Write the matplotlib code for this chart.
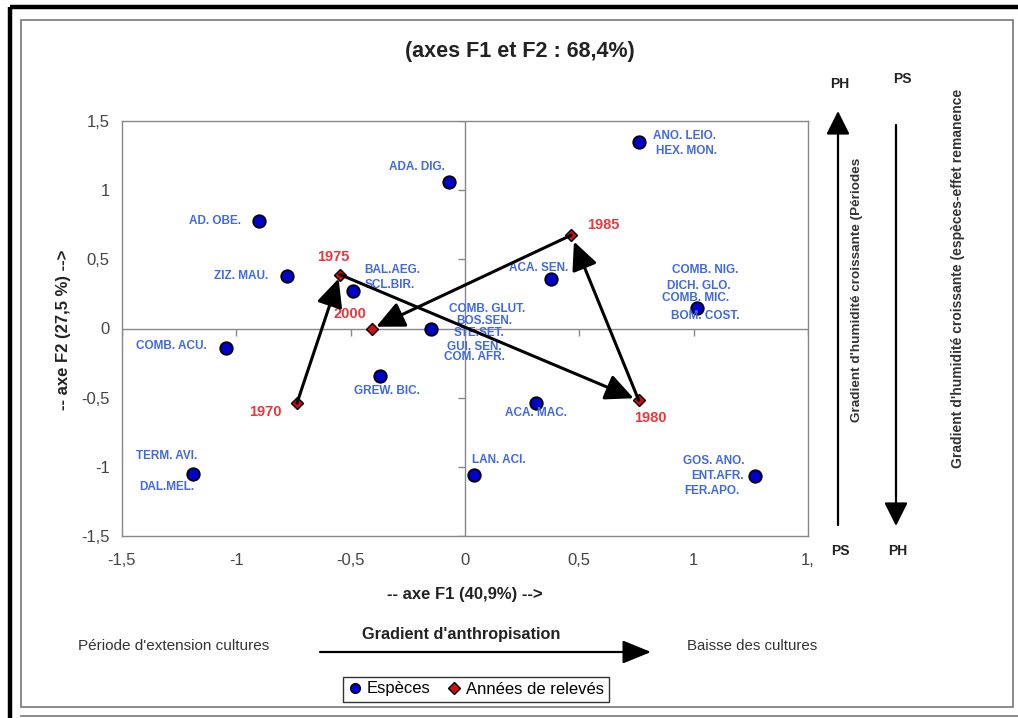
import matplotlib
matplotlib.use("Agg")
import matplotlib.pyplot as plt
from matplotlib.lines import Line2D
from matplotlib.patches import Rectangle
import numpy as np

plt.rcParams['font.family'] = ['Liberation Sans', 'DejaVu Sans']

# espèces : coordonnées F1 / F2
esp_x = [-0.07, -0.90, -0.78, -0.49, -0.15, -1.045, -0.37, -1.19, 0.04, 0.31, 0.375, 0.76, 1.015, 1.27]
esp_y = [1.06, 0.78, 0.38, 0.27, 0.0, -0.14, -0.34, -1.05, -1.06, -0.54, 0.355, 1.35, 0.145, -1.065]
esp_noms = [
    ["ADA. DIG."],
    ["AD. OBE."],
    ["ZIZ. MAU."],
    ["BAL.AEG.", "SCL.BIR."],
    ["COMB. GLUT.", "BOS.SEN.", "STE.SET.", "GUI. SEN.", "COM. AFR."],
    ["COMB. ACU."],
    ["GREW. BIC."],
    ["TERM. AVI.", "DAL.MEL."],
    ["LAN. ACI."],
    ["ACA. MAC."],
    ["ACA. SEN."],
    ["ANO. LEIO.", "HEX. MON."],
    ["COMB. NIG.", "DICH. GLO.", "COMB. MIC.", "BOM. COST."],
    ["GOS. ANO.", "ENT.AFR.", "FER.APO."],
]
# décalages des étiquettes (pixels)
esp_offs = [
    [(-32, 15)],
    [(-44, 0)],
    [(-46, 0)],
    [(39, 21), (37, 6)],
    [(56, 19), (54, 7), (48, -5), (44, -18), (44, -29)],
    [(-55, 2)],
    [(7, -15)],
    [(-26, 18), (-26, -13)],
    [(25, 15)],
    [(0, -10)],
    [(-12, 11)],
    [(46, 6), (48, -9)],
    [(8, 38), (2, 22), (-2, 10), (8, -8)],
    [(-42, 15), (-38, 0), (-44, -15)],
]

# années de relevés
annees = ["1970", "1975", "1980", "1985", "2000"]
an_x = [-0.735, -0.547, 0.76, 0.465, -0.405]
an_y = [-0.54, 0.39, -0.52, 0.675, 0.0]
an_offs = [(-32, -9), (-7, 18), (12, -18), (32, 10), (-22, 15)]
an_shrink = [3, -4, 5, 3]

ticks = [-1.5, -1, -0.5, 0, 0.5, 1, 1.5]
xtick_lab = ["-1,5", "-1", "-0,5", "0", "0,5", "1", "1,"]
ytick_lab = ["-1,5", "-1", "-0,5", "0", "0,5", "1", "1,5"]

W, H = 1018, 718
fig = plt.figure(figsize=(W / 100, H / 100), dpi=100)

ax = fig.add_axes([122 / W, 1 - 536 / H, 686 / W, 415 / H])
ax.set_xlim(-1.5, 1.5)
ax.set_ylim(-1.5, 1.5)
for s in ax.spines.values():
    s.set_color('#888888')
    s.set_linewidth(1)
ax.set_xticks(ticks)
ax.set_xticklabels(xtick_lab)
ax.set_yticks(ticks)
ax.set_yticklabels(ytick_lab)
ax.tick_params(axis='both', length=0, labelsize=12, labelcolor='#444444')
ax.tick_params(axis='x', pad=12)
ax.tick_params(axis='y', pad=9)

# axes croisés en zéro avec leurs graduations
ax.axhline(0, color='#888888', lw=1, zorder=1)
ax.axvline(0, color='#888888', lw=1, zorder=1)
ax.plot(np.zeros(len(ticks)), ticks, ls='none', marker=0, ms=5, mew=1, color='#888888', zorder=1)
ax.plot(ticks, np.zeros(len(ticks)), ls='none', marker=3, ms=5, mew=1, color='#888888', zorder=1)

ax.set_xlabel("-- axe F1 (40,9%) -->", fontsize=12, fontweight='bold', color='#222222')
ax.xaxis.set_label_coords(0.5, -0.122)
ax.set_ylabel("-- axe F2 (27,5 %) -->", fontsize=12, fontweight='bold', color='#222222')
ax.yaxis.set_label_coords(-0.074, 0.496)

ax.plot(esp_x, esp_y, ls='none', marker='o', ms=9, mfc='#0000cc', mec='black', mew=1.3, zorder=3)
ax.plot(an_x, an_y, ls='none', marker='D', ms=6.5, mfc='#cc1111', mec='black', mew=1, zorder=3)

for x, y, noms, offs in zip(esp_x, esp_y, esp_noms, esp_offs):
    for nom, (dx, dy) in zip(noms, offs):
        ax.annotate(nom, (x, y), xytext=(dx, dy), textcoords='offset pixels',
                    ha='center', va='center', fontsize=8.5, fontweight='bold',
                    color='#4169e1', zorder=4)

for nom, x, y, (dx, dy) in zip(annees, an_x, an_y, an_offs):
    ax.annotate(nom, (x, y), xytext=(dx, dy), textcoords='offset pixels',
                ha='center', va='center', fontsize=10.5, fontweight='bold',
                color='#e8383d', zorder=4)

# trajectoire temporelle 1970 -> 1975 -> 1980 -> 1985 -> 2000
for i in range(len(annees) - 1):
    ax.annotate("", xy=(an_x[i + 1], an_y[i + 1]), xytext=(an_x[i], an_y[i]),
                arrowprops=dict(arrowstyle='-|>,head_length=0.9,head_width=0.42',
                                mutation_scale=19, color='black', lw=2.2,
                                shrinkA=0, shrinkB=an_shrink[i]), zorder=5)

# couche de décor en pixels
deco = fig.add_axes([0, 0, 1, 1], zorder=-1)
deco.set_xlim(0, W)
deco.set_ylim(H, 0)
deco.axis('off')
deco.plot([10, W], [7, 7], color='black', lw=3.2, solid_capstyle='butt')
deco.plot([10, 10], [7, H], color='black', lw=3.2, solid_capstyle='butt')
deco.add_patch(Rectangle((21, 20), 992, 687, fill=False, ec='#777777', lw=1.2))
deco.plot([21, W], [716, 716], color='#777777', lw=1.2)

fig.text(520 / W, 1 - 52 / H, "(axes F1 et F2 : 68,4%)", ha='center', va='center',
         fontsize=15.5, fontweight='bold', color='#222222')


def fleche(x0, y0, x1, y1, hl=0.9, hw=0.45):
    deco.annotate("", xy=(x1, y1), xytext=(x0, y0),
                  arrowprops=dict(arrowstyle='-|>,head_length=%s,head_width=%s' % (hl, hw),
                                  mutation_scale=16, color='black', lw=1.6,
                                  shrinkA=0, shrinkB=0))


# gradient d'humidité
fleche(838, 525, 838, 111)
fleche(896, 125, 896, 526)
for txt, x, y in [("PH", 840, 84), ("PS", 902, 79), ("PS", 840, 551), ("PH", 898, 551)]:
    deco.text(x, y, txt, ha='center', va='center', fontsize=10, fontweight='bold', color='#222222')
deco.text(857, 290, "Gradient d'humidité croissante (Périodes", rotation=90,
          ha='center', va='center', fontsize=9.7, fontweight='bold', color='#333333')
deco.text(958, 278, "Gradient d'humidité croissante (espèces-effet remanence", rotation=90,
          ha='center', va='center', fontsize=10, fontweight='bold', color='#333333')

# gradient d'anthropisation
fleche(320, 652, 651, 652, hl=1.1, hw=0.45)
deco.text(461, 634, "Gradient d'anthropisation", ha='center', va='center',
          fontsize=11.7, fontweight='bold', color='#222222')
deco.text(174, 646, "Période d'extension cultures", ha='center', va='center',
          fontsize=11, color='#333333')
deco.text(752, 646, "Baisse des cultures", ha='center', va='center',
          fontsize=10.8, color='#333333')

handles = [
    Line2D([], [], ls='none', marker='o', ms=7, mfc='#0000cc', mec='black', mew=1),
    Line2D([], [], ls='none', marker='D', ms=6, mfc='#cc1111', mec='black', mew=1),
]
leg = fig.legend(handles, ["Espèces", "Années de relevés"], loc='center',
                 bbox_to_anchor=(476 / W, 1 - 689 / H), ncol=2, fontsize=12,
                 frameon=True, fancybox=False, handlelength=0.8, handletextpad=0.3,
                 columnspacing=1.0, borderpad=0.3)
leg.get_frame().set_edgecolor('black')
leg.get_frame().set_linewidth(1)

fig.savefig("out.png", dpi=100)
